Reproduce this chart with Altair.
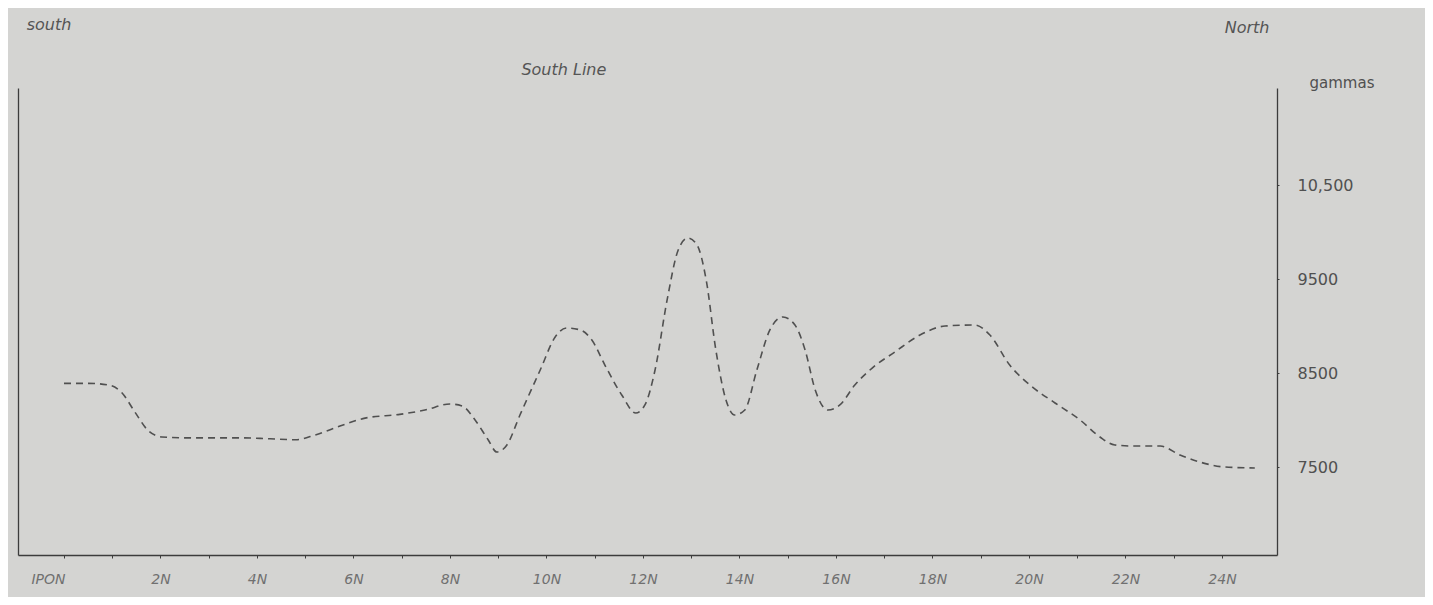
import altair as alt
import pandas as pd

# Station positions (0 = IPON, n = nN) and magnetic intensity in gammas
stations = [0.0, 0.5, 0.95, 1.2, 1.47, 1.74, 2.03, 2.6, 3.65, 4.27, 4.8, 5.2, 5.72, 6.24,
            6.96, 7.48, 8.0, 8.25, 8.52, 8.79, 8.97, 9.18, 9.45, 9.87, 10.18, 10.42, 10.7,
            10.94, 11.21, 11.56, 11.85, 12.04, 12.25, 12.5, 12.73, 12.93, 13.12, 13.31,
            13.51, 13.72, 13.9, 14.11, 14.36, 14.63, 14.9, 15.15, 15.36, 15.57, 15.83,
            16.08, 16.39, 16.75, 17.22, 17.74, 18.26, 18.88, 19.19, 19.6, 20.02, 20.54,
            21.06, 21.47, 21.78, 22.2, 22.72, 23.13, 23.54, 24.06, 24.68]
gammas = [8390, 8390, 8370, 8290, 8085, 7890, 7820, 7810, 7810, 7800, 7790, 7840, 7936, 8020,
          8060, 8106, 8170, 8150, 8000, 7790, 7660, 7735, 8053, 8532, 8883, 8979, 8958,
          8851, 8585, 8266, 8074, 8160, 8532, 9277, 9809, 9936, 9862, 9490,
          8745, 8213, 8053, 8106, 8532, 8958, 9096, 9011, 8745, 8319, 8106,
          8160, 8372, 8553, 8724, 8904, 9000, 9011, 8904, 8585, 8372, 8181,
          8000, 7819, 7734, 7723, 7723, 7628, 7553, 7500, 7490]

x_ticks = list(range(0, 25))
y_ticks = [7500, 8500, 9500, 10500]

note_text = ["south", "North", "South Line"]
note_station = [-0.31, 24.52, 10.36]
note_value = [12203, 12171, 11724]

X_DOMAIN = [-0.953, 25.14]
Y_DOMAIN = [6564, 11532]

df = pd.DataFrame({"station": stations, "gammas": gammas})
notes = pd.DataFrame({"text": note_text, "station": note_station, "gammas": note_value})

INK = "#505050"
FONT = "DejaVu Sans"

x_enc = alt.X(
    "station:Q",
    scale=alt.Scale(domain=X_DOMAIN, nice=False, zero=False),
    axis=alt.Axis(
        values=x_ticks,
        labelExpr="datum.value == 0 ? 'IPON' : (datum.value % 2 == 0 ? datum.value + 'N' : '')",
        title=None,
        grid=False,
        domainColor="#3c3c3c",
        domainWidth=1.3,
        tickColor="#3c3c3c",
        tickSize=3,
        labelPadding=14,
        labelFont=FONT,
        labelFontStyle="italic",
        labelFontSize=14,
        labelColor="#707070",
        labelOffset={"condition": {"test": "datum.value == 0", "value": -16}, "value": 0},
    ),
)

y_enc = alt.Y(
    "gammas:Q",
    scale=alt.Scale(domain=Y_DOMAIN, nice=False, zero=False),
    axis=alt.Axis(
        orient="right",
        values=y_ticks,
        labelExpr="datum.value >= 10000 ? format(datum.value, ',') : format(datum.value, 'd')",
        title="gammas",
        titleAngle=0,
        titleAlign="left",
        titleBaseline="middle",
        titleX=32,
        titleY=-6,
        titleFont=FONT,
        titleFontSize=15,
        titleFontWeight="normal",
        titleColor="#505050",
        grid=False,
        domainColor="#3c3c3c",
        domainWidth=1.3,
        tickColor="#3c3c3c",
        tickSize=2,
        labelPadding=18,
        labelAlign="left",
        labelFont=FONT,
        labelFontSize=16,
        labelColor="#505050",
    ),
)

line = alt.Chart(df).mark_line(
    interpolate="monotone",
    color=INK,
    strokeWidth=1.6,
    strokeDash=[7, 5],
).encode(x=x_enc, y=y_enc)

left_axis = alt.Chart(df).mark_line(opacity=0).encode(
    x=alt.X("station:Q", scale=alt.Scale(domain=X_DOMAIN, nice=False, zero=False)),
    y=alt.Y(
        "gammas:Q",
        scale=alt.Scale(domain=Y_DOMAIN, nice=False, zero=False),
        axis=alt.Axis(orient="left", labels=False, ticks=False, title=None, grid=False,
                      domainColor="#3c3c3c", domainWidth=1.3),
    ),
)

text = alt.Chart(notes).mark_text(
    font=FONT, fontSize=16, fontStyle="italic", color="#555555", clip=False
).encode(
    x=alt.X("station:Q", scale=alt.Scale(domain=X_DOMAIN, nice=False, zero=False)),
    y=alt.Y("gammas:Q", scale=alt.Scale(domain=Y_DOMAIN, nice=False, zero=False), axis=None),
    text="text:N",
)

chart = alt.layer(line, left_axis, text).resolve_axis(y="independent").properties(
    width=1259,
    height=467,
    autosize=alt.AutoSizeParams(type="none"),
    padding={"left": 10, "top": 80, "right": 148, "bottom": 42},
    background="#d4d4d2",
).configure_view(stroke=None)

chart.save("out.html", embed_options={"renderer": "svg", "actions": False})
